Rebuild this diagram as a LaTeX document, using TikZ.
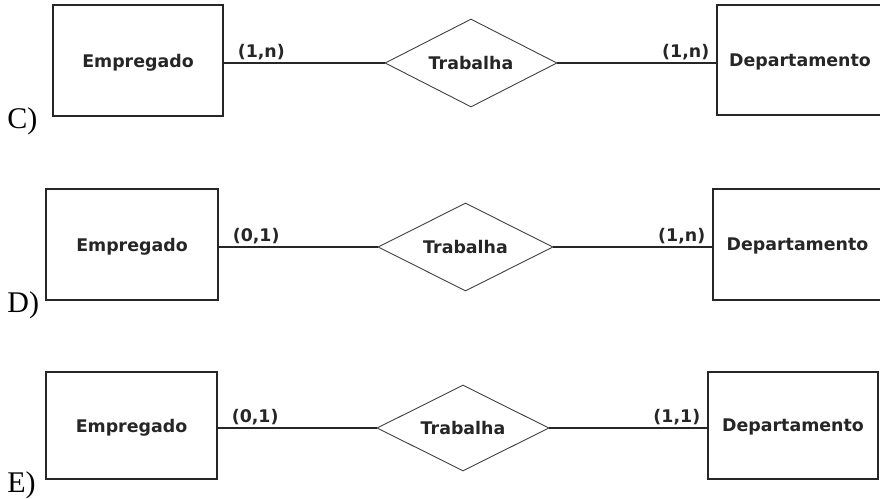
\documentclass[tikz,border=0pt]{standalone}
\usepackage{fontspec}
\setmainfont{Liberation Serif}
\newfontfamily\erfont{DejaVu Sans}
\usetikzlibrary{shapes.geometric}
\usetikzlibrary{shadows}

\begin{document}
\begin{tikzpicture}[x=0.5pt,y=-0.5pt,
  erfonte/.style={font=\erfont\bfseries\fontsize{8.7}{10}\selectfont, text=black!85},
  entidade/.style={erfonte, draw=black!85, line width=0.8pt, fill=white, inner sep=0pt, text depth=0pt,
    drop shadow={shadow xshift=0.6pt, shadow yshift=-0.6pt, opacity=0.5, fill=black}},
  relacao/.style={erfonte, diamond, draw=black!75, line width=0.45pt, aspect=2, inner sep=0pt},
  card/.style={erfonte, inner sep=0pt, outer sep=0pt},
  letra/.style={font=\fontsize{15}{18}\selectfont, inner sep=0pt, anchor=base west},
  liga/.style={line width=0.75pt, black!85}]
\useasboundingbox (0,0) rectangle (880,499);

\node[entidade, minimum width=85pt, minimum height=55.5pt] (empC) at (138,60.5) {Empregado};
\node[relacao, minimum width=86pt, minimum height=44pt] (relC) at (471,63) {Trabalha};
\node[entidade, minimum width=83pt, minimum height=55pt] (depC) at (800,60) {Departamento};
\node[letra] (letC) at (7,128) {C)};
\draw[liga] (relC.west -| empC.east) node[card, anchor=south west, xshift=7pt, yshift=1.5pt] {(1,n)} -- (relC.west);
\draw[liga] (relC.east) -- (relC.east -| depC.west) node[card, anchor=south east, xshift=-3.5pt, yshift=1.5pt] {(1,n)};

\node[entidade, minimum width=86pt, minimum height=55.5pt] (empD) at (132,244.5) {Empregado};
\node[relacao, minimum width=87.5pt, minimum height=44pt] (relD) at (465.5,247) {Trabalha};
\node[entidade, minimum width=84.5pt, minimum height=55.5pt] (depD) at (797.5,244.5) {Departamento};
\node[letra] (letD) at (7,312) {D)};
\draw[liga] (relD.west -| empD.east) node[card, anchor=south west, xshift=7pt, yshift=1.5pt] {(0,1)} -- (relD.west);
\draw[liga] (relD.east) -- (relD.east -| depD.west) node[card, anchor=south east, xshift=-3.5pt, yshift=1.5pt] {(1,n)};

\node[entidade, minimum width=85.5pt, minimum height=53.5pt] (empE) at (131.5,425.5) {Empregado};
\node[relacao, minimum width=86pt, minimum height=43pt] (relE) at (463,428) {Trabalha};
\node[entidade, minimum width=85pt, minimum height=53.5pt] (depE) at (793,425.5) {Departamento};
\node[letra] (letE) at (7,492) {E)};
\draw[liga] (relE.west -| empE.east) node[card, anchor=south west, xshift=7pt, yshift=1.5pt] {(0,1)} -- (relE.west);
\draw[liga] (relE.east) -- (relE.east -| depE.west) node[card, anchor=south east, xshift=-3.5pt, yshift=1.5pt] {(1,1)};
\end{tikzpicture}
\end{document}
